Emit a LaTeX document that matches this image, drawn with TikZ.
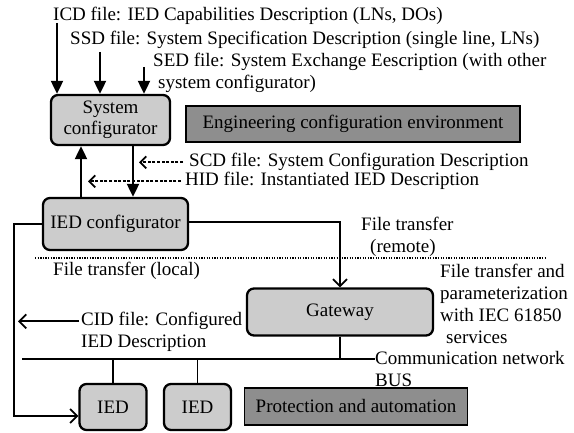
\documentclass[tikz,border=0pt]{standalone}
\usepackage{fontspec}
\setmainfont{Liberation Serif}
\usetikzlibrary{arrows.meta,calc}
\definecolor{lightbox}{RGB}{204,204,204}
\definecolor{darkbox}{RGB}{142,142,142}
\begin{document}
\begin{tikzpicture}[x=1pt,y=-1pt,
  every node/.style={font=\fontsize{19}{21}\selectfont, inner sep=0pt},
  rbox/.style={draw, line width=2.3pt, rounded corners=7pt, fill=lightbox, align=center},
  dbox/.style={draw, line width=1.8pt, fill=darkbox},
  lbl/.style={anchor=base west},
  conn/.style={line width=2pt},
  thinconn/.style={line width=1.6pt},
  solidarrow/.style={conn, -{Triangle[length=13pt,width=12pt]}},
  openarrow/.style={conn, -{Straight Barb[length=7pt,width=14pt,line width=1.8pt]}},
  dasharrow/.style={conn, dash pattern=on 3pt off 1.6pt, -{Straight Barb[length=6pt,width=12pt,line width=1.8pt]}},
  dotline/.style={line width=1.4pt, dash pattern=on 1.3pt off 1.3pt}
]
\useasboundingbox (0,0) rectangle (574,433);

% boxes
\node[rbox, minimum width=119pt, minimum height=50pt] (sys) at (110.5,120) {System\\configurator};
\node[dbox, minimum width=334pt, minimum height=36pt] (eng) at (353,124) {Engineering configuration environment};
\node[rbox, minimum width=145pt, minimum height=52pt] (iedc) at (115.5,224) {IED configurator};
\node[rbox, minimum width=186pt, minimum height=47pt] (gw) at (340,312) {Gateway};
\node[rbox, minimum width=67pt, minimum height=46pt] (ied1) at (113,407) {IED};
\node[rbox, minimum width=67pt, minimum height=46pt] (ied2) at (197.5,407) {IED};
\node[dbox, minimum width=223pt, minimum height=37pt] (prot) at (356,406.5) {Protection and automation};

% labels
\node[lbl] (icd) at (53,21) {ICD file: IED Capabilities Description (LNs, DOs)};
\node[lbl] (ssd) at (70,45) {SSD file: System Specification Description (single line, LNs)};
\node[lbl] (sed) at (153,67) {SED file: System Exchange Eescription (with other};
\node[lbl] (sed2) at (158,89) {system configurator)};
\node[lbl] (scd) at (189,167) {SCD file: System Configuration Description};
\node[lbl] (hid) at (185,186) {HID file: Instantiated IED Description};
\node[lbl] (ftr) at (361,231) {File transfer};
\node[lbl] (ftr2) at (370,253) {(remote)};
\node[lbl] (ftl) at (53,276) {File transfer (local)};
\node[lbl] (fta1) at (440,278) {File transfer and};
\node[lbl] (fta2) at (440,300) {parameterization};
\node[lbl] (fta3) at (440,322) {with IEC 61850};
\node[lbl] (fta4) at (446,344) {services};
\node[lbl] (cid1) at (81,326) {CID file: Configured};
\node[lbl] (cid2) at (81,348) {IED Description};
\node[lbl] (cn1) at (375,364) {Communication network};
\node[lbl] (cn2) at (375,386) {BUS};

% coordinates
\coordinate (icdtop) at (57,23);
\coordinate (ssdtop) at (100,52);
\coordinate (sedtop) at (144,67);
\coordinate (upx) at (81,0);
\coordinate (dnx) at (133,0);
\coordinate (scdtip) at (139,0);
\coordinate (hidtip) at (88,0);
\coordinate (loopx) at (14,416);
\coordinate (cidtip) at (18,0);
\coordinate (busL) at (22,359);
\coordinate (dotL) at (35,258);
\coordinate (dotR) at (547,258);

% connectors
\draw[solidarrow] (icdtop) -- (icdtop |- sys.north);
\draw[solidarrow] (ssdtop) -- (ssdtop |- sys.north);
\draw[solidarrow] (sedtop) -- (sedtop |- sys.north);
\draw[solidarrow] (iedc.north -| upx) -- (sys.south -| upx);
\draw[solidarrow] (sys.south -| dnx) -- (iedc.north -| dnx);
\draw[dasharrow] ([xshift=-6pt]scd.west) -- (scd.west -| scdtip);
\draw[dasharrow] ([xshift=-4pt]hid.west) -- (hid.west -| hidtip);
\draw[openarrow] ([yshift=2pt]iedc.east) -| (gw.north);
\draw[openarrow] (iedc.west) -| (loopx) -- (ied1.west |- loopx);
\draw[openarrow] ([xshift=-2pt]cid1.west) -- (cid1.west -| cidtip);
\draw[dotline] (dotL) -- (dotR);
\draw[thinconn] (busL) -- (busL -| cn1.west);
\draw[thinconn] (gw.south) -- (gw.south |- busL);
\draw[thinconn] (ied1.north) -- (ied1.north |- busL);
\draw[thinconn] (ied2.north) -- (ied2.north |- busL);
\end{tikzpicture}
\end{document}
